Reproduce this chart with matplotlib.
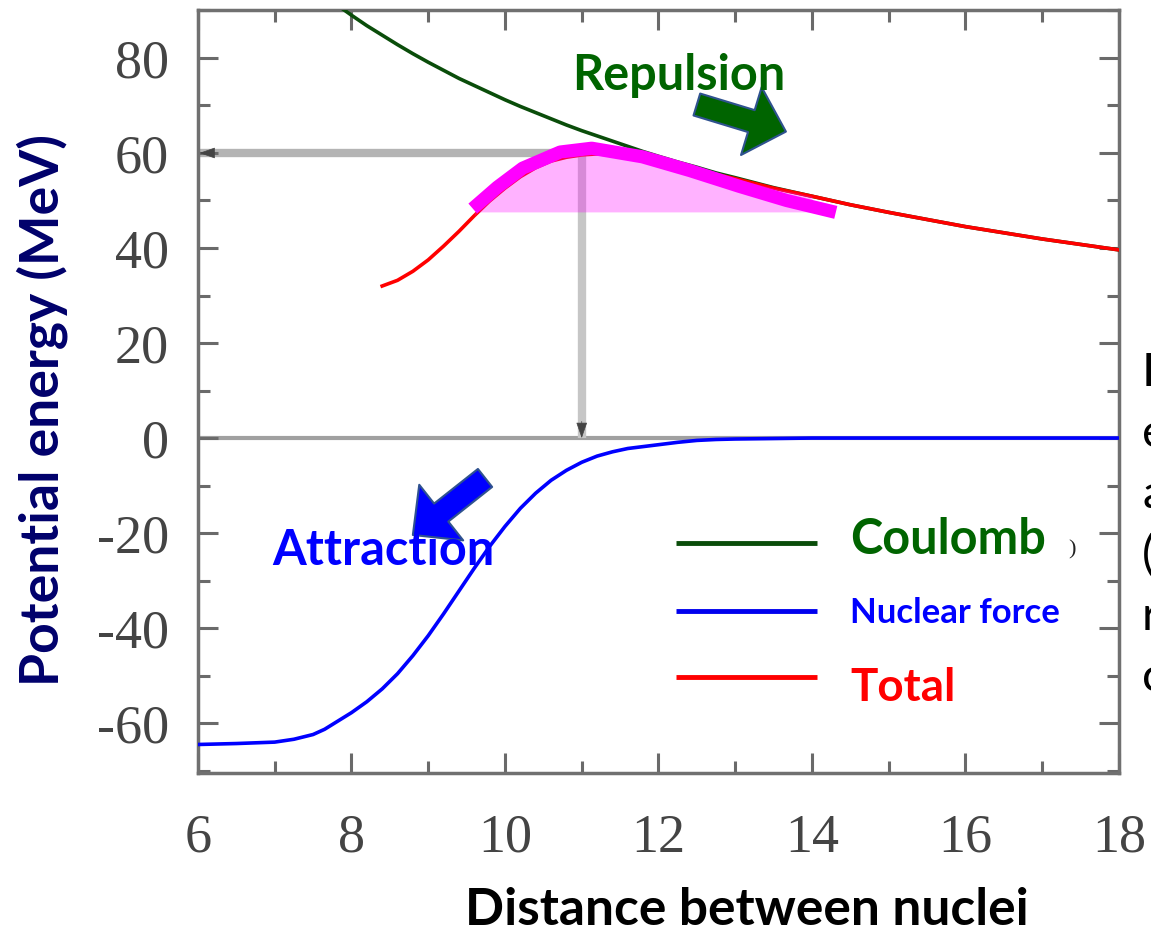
import numpy as np
import matplotlib
matplotlib.use("Agg")
import matplotlib.pyplot as plt
from matplotlib.ticker import MultipleLocator

plt.rcParams["axes.unicode_minus"] = False

# separation between the two nuclei and the energy terms (MeV)
distance = [6.0, 6.5, 7.0, 7.25, 7.5, 7.65, 7.8, 8.0, 8.2, 8.4, 8.6, 8.8, 9.0, 9.2,
            9.4, 9.6, 9.8, 10.0, 10.2, 10.4, 10.6, 10.8, 11.0, 11.2, 11.4, 11.6,
            11.8, 12.0, 12.25, 12.5, 12.75, 13.0, 13.5, 14.0, 14.5, 15.0, 16.0,
            17.0, 18.0]
coulomb = [np.nan, np.nan, np.nan, np.nan, np.nan, np.nan, 91.3, 89.0, 86.8, 84.8,
           82.8, 80.9, 79.1, 77.4, 75.7, 74.2, 72.7, 71.2, 69.8, 68.5, 67.2, 65.9,
           64.7, 63.6, 62.5, 61.4, 60.3, 59.3, 58.1, 57.0, 55.8, 54.8, 52.7, 50.9,
           49.1, 47.5, 44.5, 41.9, 39.6]
nuclear = [-64.5, -64.3, -64.0, -63.4, -62.4, -61.3, -59.8, -57.8, -55.5, -52.8,
           -49.6, -45.8, -41.6, -37.0, -32.2, -27.4, -22.8, -18.6, -14.8, -11.6,
           -8.9, -6.8, -5.1, -3.8, -2.9, -2.2, -1.8, -1.4, -0.9, -0.5, -0.3, -0.2,
           -0.1, 0.0, 0.0, 0.0, 0.0, 0.0, 0.0]

# hand-drawn highlight over the top of the barrier
hl_x = [9.58, 9.9, 10.23, 10.72, 11.13, 11.79, 12.41, 13.05, 13.67, 14.31]
hl_y = [48.3, 52.8, 56.8, 60.2, 61.0, 59.2, 56.3, 53.0, 50.0, 47.5]
fill_start, fill_end, fill_base = 9.6, 14.0, 47.6
barrier_x, barrier_y = 11.0, 60.0

x = np.array(distance)
c = np.array(coulomb)
n = np.array(nuclear)
total = c + n
has_total = x >= 8.4
in_fill = (x >= fill_start) & (x <= fill_end)

fig = plt.figure(figsize=(11.51, 9.33), dpi=100)
ax = fig.add_axes([0.1720, 0.1715, 0.8002, 0.8178])
ax.set_xlim(6, 18)
ax.set_ylim(-70.5, 90.1)

# guide lines: zero level and the barrier height / position
ax.axhline(0, color="#a0a0a0", lw=3, zorder=1)
ax.plot([6, barrier_x], [barrier_y, barrier_y], color="#b4b4b4", lw=6, zorder=1,
        solid_capstyle="butt")
ax.plot([barrier_x, barrier_x], [barrier_y, 0], color="#c6c6c6", lw=6, zorder=1,
        solid_capstyle="butt")
head = dict(arrowstyle="-|>,head_length=1.0,head_width=0.35", mutation_scale=10,
            color="#444444", lw=0.5, shrinkA=0, shrinkB=0)
ax.annotate("", xy=(barrier_x, 0), xytext=(barrier_x, 3.5), arrowprops=head, zorder=2)
ax.annotate("", xy=(6.02, barrier_y), xytext=(6.22, barrier_y), arrowprops=head, zorder=2)

ax.plot(x, c, color="#0a4d0a", lw=2.6, zorder=3)
ax.plot(x, n, color="#0000ff", lw=2.6, zorder=3)
ax.plot(x[has_total], total[has_total], color="#ff0000", lw=2.6, zorder=3)

ax.fill_between(x[in_fill], fill_base, total[in_fill], color="#ff00ff", alpha=0.3,
                lw=0, zorder=4)
ax.plot(hl_x, hl_y, color="#ff00ff", lw=9.5, zorder=5, solid_capstyle="butt",
        solid_joinstyle="round")

# block arrows
block = "simple,head_length=2.6,head_width=5.1,tail_width=1.65"
ax.annotate("", xy=(13.66, 64.5), xytext=(12.50, 70.2), zorder=6,
            arrowprops=dict(arrowstyle=block, mutation_scale=10, fc="#006400",
                            ec="#2f528f", lw=1.5, shrinkA=0, shrinkB=0))
ax.annotate("", xy=(8.80, -20.4), xytext=(9.74, -8.4), zorder=6,
            arrowprops=dict(arrowstyle=block, mutation_scale=10, fc="#0000ff",
                            ec="#2f528f", lw=1.5, shrinkA=0, shrinkB=0))

bold = dict(family="Lato", fontweight="bold")
ax.text(0.406, 0.895, "Repulsion", transform=ax.transAxes, color="#006400",
        fontsize=35, va="baseline", zorder=7, **bold)
ax.text(0.0803, 0.2726, "Attraction", transform=ax.transAxes, color="#0000ff",
        fontsize=35, va="baseline", zorder=7, **bold)

# legend drawn by hand
legend_rows = [("Coulomb", "#0a4d0a", "#006400", 35, 0.3014, 0.287),
               ("Nuclear force", "#0000ee", "#0000ff", 25, 0.2123, 0.1966),
               ("Total", "#ff0000", "#ff0000", 33, 0.1258, 0.0944)]
for label, lc, tc, size, ly, ty in legend_rows:
    ax.plot([0.519, 0.672], [ly, ly], transform=ax.transAxes, color=lc, lw=3.5,
            solid_capstyle="butt", zorder=6)
    ax.text(0.708, ty, label, transform=ax.transAxes, color=tc, fontsize=size,
            va="baseline", zorder=7, **bold)
ax.text(0.945, 0.292, ")", transform=ax.transAxes, fontsize=16, color="#222222",
        va="center", family="Liberation Serif")

# axes styling
for side in ax.spines.values():
    side.set_color("#707070")
    side.set_linewidth(2.5)
ax.xaxis.set_major_locator(MultipleLocator(2))
ax.xaxis.set_minor_locator(MultipleLocator(1))
ax.yaxis.set_major_locator(MultipleLocator(20))
ax.yaxis.set_minor_locator(MultipleLocator(10))
ax.tick_params(which="both", direction="in", top=True, right=True, color="#6a6a6a",
               width=2.2, labelcolor="#444444", labelsize=39)
ax.tick_params(which="major", length=14.5)
ax.tick_params(which="minor", length=8.5)
ax.tick_params(axis="x", pad=29)
ax.tick_params(axis="y", pad=21)
for lab in ax.get_xticklabels() + ax.get_yticklabels():
    lab.set_family("Liberation Serif")

fig.text(0.0365, 0.561, "Potential energy (MeV)", rotation=90, ha="center",
         va="center", color="#00006b", fontsize=38.5, **bold)
fig.text(0.649, 0.009, "Distance between nuclei", ha="center", va="baseline",
         color="black", fontsize=37, **bold)

# edge of a neighbouring text column
for ch, yb in zip(["I", "e", "a", "(", "r", "c"], [386, 447, 508, 569, 630, 691]):
    fig.text(1142 / 1151, 1 - yb / 933, ch, fontsize=34, family="Lato",
             va="baseline", color="black")

fig.savefig("out.png", dpi=100)
